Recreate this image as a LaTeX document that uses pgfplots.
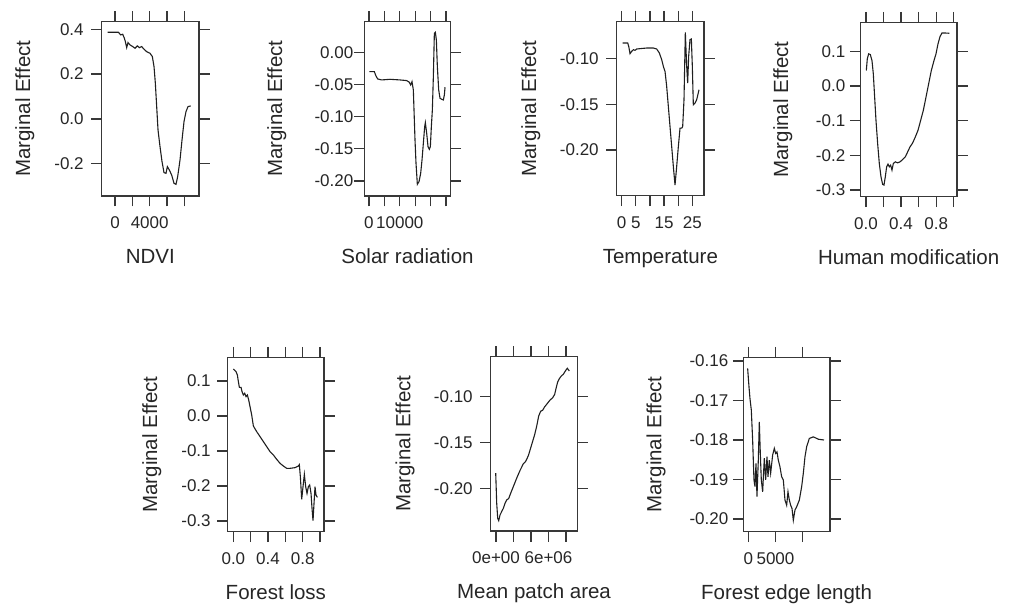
\documentclass[border=0pt]{standalone}
\usepackage{fontspec}
\setmainfont{Liberation Sans}
\usepackage{pgfplots}
\pgfplotsset{compat=1.18}

\pgfplotsset{
  me/.style={
    scale only axis, height=174.4pt, anchor=south west,
    axis line style={black!78, line width=1.2pt},
    tick style={black!78, line width=1.2pt},
    tick align=outside, major tick length=10.5pt,
    scaled ticks=false, clip=false,
    tick label style={font=\fontsize{17}{20}\selectfont, text=black!85},
    xticklabel style={yshift=-7pt},
    label style={font=\fontsize{20.5}{24}\selectfont, text=black!85},
    xlabel style={at={([yshift=-67.5pt]axis description cs:0.5,0)}, anchor=base},
    ylabel={Marginal Effect},
  },
  ylab/.style={ylabel style={at={([xshift=-#1pt]axis description cs:0,0.5)}, anchor=center}},
  ytl/.style={yticklabel style={xshift=#1pt}},
  curve/.style={black!88, line width=1.1pt, mark=none},
}

\begin{document}
\begin{tikzpicture}
\path (0pt,0pt) rectangle (1016pt,610pt);

% NDVI
\begin{axis}[me, ylab=77, ytl=-4, at={(101.7pt,414pt)}, width=97.3pt,
  xmin=-1538, xmax=9692, ymin=-0.3435, ymax=0.434,
  xtick={0,2000,4000,6000,8000}, xticklabels={0,,4000,,},
  ytick={-0.2,0,0.2,0.4}, yticklabels={-0.2,0.0,0.2,0.4},
  xlabel={NDVI}]
\addplot[curve] coordinates {
(-846,0.3866) (385,0.3866) (654,0.3747) (885,0.3777) (1077,0.3599) (1192,0.345)
(1346,0.318) (1500,0.3405) (1731,0.330) (2038,0.3227) (2308,0.3152) (2577,0.3257)
(2808,0.318) (3077,0.3227) (3346,0.3108) (3654,0.300) (4038,0.2929) (4308,0.278)
(4500,0.2335) (4654,0.159) (4808,0.055) (4962,-0.049) (5192,-0.1234) (5423,-0.190)
(5654,-0.2394) (5885,-0.2424) (6038,-0.2126) (6269,-0.2275) (6538,-0.250) (6808,-0.287)
(7038,-0.2914) (7231,-0.257) (7500,-0.183) (7731,-0.0937) (7962,-0.0119) (8192,0.0327)
(8423,0.055) (8731,0.058)};
\end{axis}

% Solar radiation
\begin{axis}[me, ylab=87.6, ytl=3, at={(364.3pt,414pt)}, width=86.4pt,
  xmin=-1515, xmax=26515, ymin=-0.2234, ymax=0.0483,
  xtick={0,5000,10000,15000,20000,25000}, xticklabels={0,,10000,,,},
  ytick={-0.2,-0.15,-0.1,-0.05,0}, yticklabels={-0.20,-0.15,-0.10,-0.05,0.00},
  xlabel={Solar radiation}]
\addplot[curve] coordinates {
(108,-0.0296) (1732,-0.0296) (2273,-0.0364) (2814,-0.0410) (4113,-0.0426) (6818,-0.0416)
(10065,-0.0426) (12229,-0.0436) (13095,-0.0462) (13528,-0.0504) (13961,-0.0452) (14394,-0.0582)
(14610,-0.0894) (14935,-0.1361) (15260,-0.1725) (15693,-0.2052) (16234,-0.2010) (16775,-0.1881)
(17208,-0.1673) (17641,-0.1413) (18074,-0.1153) (18290,-0.1091) (18723,-0.1257) (19156,-0.1465)
(19589,-0.1506) (19913,-0.1465) (20238,-0.1153) (20563,-0.0894) (20887,-0.0374) (21212,0.0301)
(21537,0.0317) (21861,0.0197) (22186,-0.0218) (22619,-0.0582) (23052,-0.0712) (23593,-0.0727)
(24134,-0.0738) (24459,-0.0660) (24675,-0.0540)};
\end{axis}

% Temperature
\begin{axis}[me, ylab=86, ytl=-4, at={(616.7pt,414.3pt)}, width=87.3pt,
  xmin=-1.77, xmax=29.13, ymin=-0.2502, ymax=-0.059,
  xtick={0,5,10,15,20,25}, xticklabels={0,5,,15,,25},
  ytick={-0.2,-0.15,-0.1}, yticklabels={-0.20,-0.15,-0.10},
  xlabel={Temperature}]
\addplot[curve] coordinates {
(0.35,-0.0828) (2.12,-0.0828) (2.48,-0.0864) (2.95,-0.0945) (3.54,-0.0919) (4.13,-0.0901)
(4.72,-0.0908) (5.31,-0.0894) (6.49,-0.0890) (8.84,-0.0883) (11.2,-0.0883) (12.38,-0.0894)
(13.33,-0.0938) (14.15,-0.1011) (14.74,-0.1084) (15.33,-0.1139) (15.92,-0.1304) (16.51,-0.1524)
(17.1,-0.1744) (17.69,-0.1963) (18.28,-0.2183) (18.87,-0.2385) (19.46,-0.2183) (20.05,-0.1963)
(20.64,-0.1762) (21.23,-0.1762) (21.58,-0.1744) (22.05,-0.1451) (22.52,-0.0711) (23.0,-0.1084)
(23.35,-0.1267) (23.70,-0.0974) (24.17,-0.0791) (24.65,-0.0784) (25.0,-0.1084) (25.35,-0.1505)
(25.94,-0.1487) (26.53,-0.1451) (27.36,-0.1341)};
\end{axis}

% Human modification
\begin{axis}[me, ylab=77.6, ytl=-1, at={(860.3pt,413.3pt)}, width=96.7pt,
  xmin=-0.0646, xmax=1.038, ymin=-0.319, ymax=0.1833,
  xtick={0,0.2,0.4,0.6,0.8,1}, xticklabels={0.0,,0.4,,0.8,},
  ytick={-0.3,-0.2,-0.1,0,0.1}, yticklabels={-0.3,-0.2,-0.1,0.0,0.1},
  xlabel={Human modification}]
\addplot[curve] coordinates {
(0.0038,0.0445) (0.0152,0.078) (0.0304,0.0923) (0.0494,0.0904) (0.0684,0.0732) (0.0837,0.0349)
(0.0989,-0.0321) (0.1141,-0.0990) (0.1331,-0.1660) (0.1521,-0.2234) (0.1711,-0.2617) (0.1901,-0.2837)
(0.2053,-0.2856) (0.2205,-0.2617) (0.2357,-0.2330) (0.2510,-0.2254) (0.2662,-0.2330) (0.2814,-0.2282)
(0.2966,-0.2426) (0.3118,-0.2234) (0.3346,-0.2187) (0.3612,-0.2215) (0.3878,-0.2187) (0.4183,-0.2120)
(0.4487,-0.2043) (0.4753,-0.1900) (0.5019,-0.1756) (0.5323,-0.1641) (0.5627,-0.1469) (0.5932,-0.1278)
(0.6236,-0.0990) (0.6540,-0.0703) (0.6844,-0.0321) (0.7148,0.0062) (0.7452,0.0445) (0.7757,0.0732)
(0.7985,0.0923) (0.8213,0.1211) (0.8441,0.1421) (0.8669,0.1526) (0.8935,0.1526) (0.9506,0.1517)};
\end{axis}

% Forest loss
\begin{axis}[me, ylab=76, ytl=-3, at={(227.7pt,78.3pt)}, width=96.3pt,
  xmin=-0.0654, xmax=1.046, ymin=-0.3305, ymax=0.1676,
  xtick={0,0.2,0.4,0.6,0.8,1}, xticklabels={0.0,,0.4,,0.8,},
  ytick={-0.3,-0.2,-0.1,0,0.1}, yticklabels={-0.3,-0.2,-0.1,0.0,0.1},
  xlabel={Forest loss}]
\addplot[curve] coordinates {
(0,0.1343) (0.0308,0.1267) (0.0462,0.1171) (0.0577,0.0981) (0.0692,0.0819) (0.0885,0.0819)
(0.1,0.0695) (0.1154,0.060) (0.1308,0.0648) (0.1462,0.0552) (0.1615,0.060) (0.1769,0.0457)
(0.1923,0.0267) (0.2115,0.0029) (0.2308,-0.0286) (0.2692,-0.0448) (0.3077,-0.0590) (0.3462,-0.0733)
(0.3846,-0.0876) (0.4231,-0.1019) (0.4615,-0.1114) (0.5,-0.1238) (0.5385,-0.1352) (0.5769,-0.1429)
(0.6154,-0.1495) (0.6538,-0.1495) (0.7115,-0.1476) (0.75,-0.1429) (0.7615,-0.1390) (0.7731,-0.1733)
(0.7885,-0.2381) (0.8038,-0.2019) (0.8192,-0.1667) (0.8346,-0.2019) (0.85,-0.221) (0.8654,-0.2019)
(0.8808,-0.1971) (0.8962,-0.2210) (0.9077,-0.2638) (0.9192,-0.2990) (0.9308,-0.2495) (0.9423,-0.2019)
(0.9538,-0.2257) (0.9692,-0.2324)};
\end{axis}

% Mean patch area (x in millions)
\begin{axis}[me, ylab=85.7, ytl=-4, at={(490.7pt,79pt)}, width=86.6pt,
  xmin=-0.61, xmax=9.295, ymin=-0.2467, ymax=-0.0566,
  xtick={0,2,4,6,8}, xticklabels={0e+00,,,6e+06,},
  ytick={-0.2,-0.15,-0.1}, yticklabels={-0.20,-0.15,-0.10},
  xlabel={Mean patch area}]
\addplot[curve] coordinates {
(-0.038,-0.1836) (0.076,-0.2164) (0.19,-0.2328) (0.305,-0.2354) (0.457,-0.2292) (0.648,-0.2255)
(0.838,-0.2219) (1.029,-0.2164) (1.219,-0.2128) (1.448,-0.2113) (1.676,-0.2055) (1.981,-0.1982)
(2.362,-0.1891) (2.743,-0.1807) (3.124,-0.1734) (3.39,-0.1708) (3.695,-0.1646) (3.962,-0.1562)
(4.19,-0.1489) (4.419,-0.1416) (4.648,-0.1325) (4.876,-0.1215) (5.105,-0.1161) (5.333,-0.1150)
(5.562,-0.1113) (5.867,-0.1077) (6.171,-0.1040) (6.476,-0.1015) (6.705,-0.0978) (6.857,-0.0916)
(7.048,-0.0843) (7.238,-0.0807) (7.467,-0.0777) (7.695,-0.0759) (7.924,-0.0723) (8.152,-0.0693)
(8.381,-0.0723)};
\end{axis}

% Forest edge length
\begin{axis}[me, ylab=87.3, ytl=-1, at={(743.3pt,78.3pt)}, width=86.7pt,
  xmin=-920, xmax=15031, ymin=-0.2032, ymax=-0.15907,
  xtick={0,5000,10000}, xticklabels={0,5000,},
  ytick={-0.2,-0.19,-0.18,-0.17,-0.16}, yticklabels={-0.20,-0.19,-0.18,-0.17,-0.16},
  xlabel={Forest edge length}]
\addplot[curve] coordinates {
(-123,-0.16186) (123,-0.1665) (307,-0.1695) (552,-0.1724) (798,-0.1800) (1043,-0.1901)
(1227,-0.1918) (1411,-0.1859) (1595,-0.1943) (1840,-0.1851) (2025,-0.1754) (2209,-0.1834)
(2393,-0.1901) (2638,-0.1931) (2945,-0.1846) (3190,-0.1901) (3436,-0.1842) (3620,-0.1893)
(3865,-0.1851) (4110,-0.1884) (4479,-0.1838) (4785,-0.1821) (5031,-0.1834) (5276,-0.1830)
(5521,-0.1851) (5828,-0.1868) (6135,-0.1893) (6442,-0.1901) (6748,-0.1952) (7055,-0.1965)
(7301,-0.1931) (7546,-0.1952) (7791,-0.1965) (8037,-0.1973) (8282,-0.2003) (8589,-0.1977)
(8896,-0.1969) (9387,-0.1952) (9816,-0.1918) (10123,-0.1884) (10429,-0.1842) (10736,-0.1817)
(11227,-0.1796) (11963,-0.1792) (12883,-0.1798) (13926,-0.1800)};
\end{axis}

\pgfresetboundingbox
\path[use as bounding box] (0pt,0pt) rectangle (1016pt,610pt);
\end{tikzpicture}
\end{document}
